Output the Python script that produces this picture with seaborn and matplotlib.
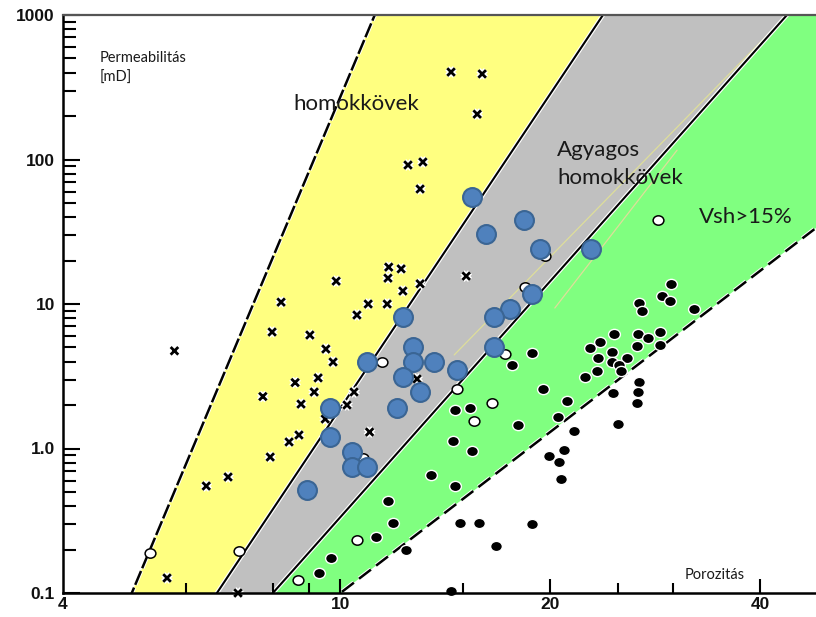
import numpy as np
import matplotlib
matplotlib.use("Agg")
import matplotlib.pyplot as plt
import matplotlib.patheffects as pe
from matplotlib.path import Path
from matplotlib.transforms import Affine2D, blended_transform_factory
from matplotlib.ticker import FixedLocator, FixedFormatter, NullLocator
import seaborn as sns

# --- porosity (%) / permeability (mD) samples -------------------------------
# clean sandstones (x markers)
sand_phi = [5.78, 8.22, 7.98, 7.74, 8.61, 9.29, 9.17, 8.78, 9.04, 9.53,
            9.76, 9.86, 10.56, 10.96, 11.67, 11.73, 12.22, 11.70, 12.29, 13.01,
            13.01, 12.50, 13.13, 14.41, 15.97, 15.71, 15.15, 10.46, 10.22, 9.51,
            12.88, 11.01, 8.72, 8.44, 7.93, 6.90, 6.42, 5.64, 7.13]
sand_k = [4.74, 10.3, 6.40, 2.29, 2.86, 3.08, 2.46, 2.03, 6.10, 4.88,
          3.97, 14.4, 8.39, 10.0, 10.0, 18.0, 17.5, 15.1, 12.3, 13.8,
          62.5, 91.6, 96.1, 403, 391, 206, 15.6, 2.46, 2.00, 1.60,
          3.03, 1.30, 1.24, 1.11, 0.873, 0.635, 0.55, 0.127, 0.10]

# open circles
open_phi = [5.33, 7.15, 8.70, 10.56, 10.78, 15.55, 16.5, 11.47, 14.7, 17.23,
            18.4, 19.66, 28.5]
open_k = [0.19, 0.195, 0.123, 0.233, 0.86, 1.55, 2.07, 3.97, 2.58, 4.5,
          13.1, 21.5, 38.0]

# shaly samples (filled black)
shale_phi = [14.6, 15.35, 18.0, 14.5, 15.45, 13.5, 14.6, 11.7, 11.9, 11.25,
             9.7, 9.32, 12.4, 14.85, 15.8, 18.8, 16.7, 14.4, 19.9, 20.6,
             20.9, 20.7, 20.5, 21.6, 21.1, 25.0, 26.6, 29.8, 28.9, 29.7,
             26.8, 27.1, 32.1, 24.7, 26.7, 27.6, 28.7, 26.6, 28.7, 23.6,
             22.8, 24.5, 23.4, 25.8, 24.5, 25.1, 25.3, 23.3, 22.4, 18.8,
             19.5, 24.6, 26.8, 26.7, 17.6]
shale_k = [1.85, 1.9, 1.45, 1.13, 0.96, 0.66, 0.55, 0.43, 0.305, 0.244,
           0.175, 0.138, 0.2, 0.305, 0.305, 0.30, 0.21, 0.103, 0.89, 0.81,
           0.98, 0.615, 1.65, 1.32, 2.13, 1.48, 2.07, 13.7, 11.4, 10.5,
           10.2, 8.95, 9.2, 6.2, 6.2, 5.8, 6.4, 5.1, 5.2, 5.5,
           4.96, 4.65, 4.2, 4.2, 3.97, 3.8, 3.45, 3.45, 3.1, 4.6,
           2.58, 2.42, 2.88, 2.46, 3.8]

# measured cores (blue)
core_phi = [15.45, 18.34, 16.2, 19.3, 22.9, 18.8, 17.5, 16.6, 16.6, 12.3,
            12.7, 12.7, 13.6, 14.7, 10.9, 12.3, 13.0, 9.66, 12.05, 9.66,
            10.4, 10.4, 10.9, 8.96]
core_k = [55, 38, 30.5, 24, 24, 11.7, 9.2, 8.1, 5.0, 8.1,
          5.0, 3.97, 4.0, 3.5, 4.0, 3.1, 2.45, 1.9, 1.9, 1.2,
          0.95, 0.745, 0.745, 0.52]

# zone boundaries: two (porosity, permeability) points each, straight on log-log
bound_sand_left = [(5.02, 0.1), (11.2, 1000)]
bound_sand_clay = [(6.65, 0.1), (23.8, 1000)]
bound_clay_shale = [(8.0, 0.1), (43.7, 1000)]
bound_shale_right = [(10.0, 0.1), (48.1, 33.6)]
guide_lines = [[(14.56, 4.44), (43.7, 1000)], [(20.3, 9.38), (30.4, 116)]]

x_major = [4, 10, 20, 40]
x_major_labels = ["4", "10", "20", "40"]
x_minor = [6, 8, 9, 15, 25, 30]
y_major = [0.1, 1, 10, 100, 1000]
y_major_labels = ["0.1", "1.0", "10", "100", "1000"]
y_minor = [m * 10.0 ** e for e in range(-1, 3) for m in range(2, 10)]

sns.set_style("ticks")
plt.rcParams["font.family"] = ["Lato", "DejaVu Sans"]

W, H = 816, 617
AX_W, AX_H = 753, 578
fig = plt.figure(figsize=(W / 100, H / 100), dpi=100)
ax = fig.add_axes([63 / W, 24 / H, AX_W / W, AX_H / H])
ax.set_xscale("log")
ax.set_yscale("log")
ax.set_xlim(4, 48.1)
ax.set_ylim(0.1, 1000)


def line_x(k, pts):
    (p1, k1), (p2, k2) = pts
    t = (np.log10(k) - np.log10(k1)) / (np.log10(k2) - np.log10(k1))
    return 10 ** (np.log10(p1) + t * (np.log10(p2) - np.log10(p1)))


kk = np.logspace(-1.2, 3.2, 300)
xl1 = line_x(kk, bound_sand_left)
xl2 = line_x(kk, bound_sand_clay)
xl3 = line_x(kk, bound_clay_shale)
xl4 = line_x(kk, bound_shale_right)

ax.fill_betweenx(kk, xl1, xl2, color="#FFFF80", lw=0, zorder=1)
ax.fill_betweenx(kk, xl2, xl3, color="#C0C0C0", lw=0, zorder=1)
ax.fill_betweenx(kk, xl3, xl4, color="#80FF80", lw=0, zorder=1)

for g in guide_lines:
    gk = np.logspace(np.log10(g[0][1]), np.log10(g[1][1]), 50)
    ax.plot(line_x(gk, g), gk, color="#dede9a", lw=0.9, zorder=2)

halo = [pe.withStroke(linewidth=3.2, foreground="white")]
ax.plot(xl1, kk, color="black", lw=1.8, dashes=(6, 1.2), zorder=3, path_effects=halo)
ax.plot(xl2, kk, color="black", lw=1.5, zorder=3, path_effects=halo)
ax.plot(xl3, kk, color="black", lw=1.5, zorder=3, path_effects=halo)
ax.plot(xl4, kk, color="black", lw=1.8, dashes=(6, 2.6), zorder=3, path_effects=halo)

ellipse = Path.unit_circle().transformed(Affine2D().scale(1.15, 1.0))

sns.scatterplot(x=sand_phi, y=sand_k, ax=ax, marker="x", s=30, color="black",
                linewidth=2.0, zorder=4, clip_on=False)
ax.collections[-1].set_path_effects([pe.withStroke(linewidth=4.2, foreground="white")])

sns.scatterplot(x=open_phi, y=open_k, ax=ax, marker=ellipse, s=60, color="white",
                edgecolor="black", linewidth=1.1, zorder=5, clip_on=False)
sns.scatterplot(x=shale_phi, y=shale_k, ax=ax, marker=ellipse, s=72, color="black",
                edgecolor="white", linewidth=1.0, zorder=5, clip_on=False)
sns.scatterplot(x=core_phi, y=core_k, ax=ax, marker="o", s=185, color="#4F81BD",
                edgecolor="#3A6594", linewidth=1.5, zorder=6, clip_on=False)

# axes frame
for side in ["left", "bottom"]:
    ax.spines[side].set_linewidth(1.8)
    ax.spines[side].set_color("black")
ax.spines["top"].set_linewidth(1.6)
ax.spines["top"].set_color("#555555")
ax.spines["right"].set_visible(False)
for sp in ax.spines.values():
    sp.set_zorder(7)

# tick labels
ax.xaxis.set_major_locator(FixedLocator(x_major))
ax.xaxis.set_major_formatter(FixedFormatter(x_major_labels))
ax.xaxis.set_minor_locator(NullLocator())
ax.yaxis.set_major_locator(FixedLocator(y_major))
ax.yaxis.set_major_formatter(FixedFormatter(y_major_labels))
ax.yaxis.set_minor_locator(NullLocator())
ax.tick_params(which="both", length=0)
ax.tick_params(axis="x", pad=3)
ax.tick_params(axis="y", pad=5.8)
for lab in ax.get_xticklabels() + ax.get_yticklabels():
    lab.set_fontfamily("Liberation Sans")
    lab.set_fontweight("bold")
    lab.set_fontsize(12.5)
    lab.set_color("#111111")

# inward tick marks drawn as short segments
ytr = blended_transform_factory(ax.transAxes, ax.transData)
xtr = blended_transform_factory(ax.transData, ax.transAxes)
tick_kw = dict(color="black", lw=1.5, solid_capstyle="butt", zorder=7, clip_on=False)
for v in y_major:
    ax.plot([0, 17 / AX_W], [v, v], transform=ytr, **tick_kw)
for v in y_minor:
    ax.plot([0, 12.5 / AX_W], [v, v], transform=ytr, **tick_kw)
for v in x_major[1:]:
    ax.plot([v, v], [0, 14 / AX_H], transform=xtr, **tick_kw)
for v in x_minor:
    ax.plot([v, v], [0, 10.5 / AX_H], transform=xtr, **tick_kw)

# annotations
txt = dict(color="#1a1a1a", va="baseline", ha="left")
fig.text(100 / W, 1 - 62 / H, "Permeabilitás", fontsize=10.5, **txt)
fig.text(100 / W, 1 - 82 / H, "[mD]", fontsize=10.5, **txt)
fig.text(293 / W, 1 - 110 / H, "homokkövek", fontsize=16, **txt)
fig.text(557 / W, 1 - 156 / H, "Agyagos", fontsize=16, **txt)
fig.text(557 / W, 1 - 184 / H, "homokkövek", fontsize=16, **txt)
fig.text(699 / W, 1 - 223 / H, "Vsh>15%", fontsize=16, **txt)
fig.text(685 / W, 1 - 579 / H, "Porozitás", fontsize=10.5, **txt)

fig.savefig("out.png", dpi=100)
